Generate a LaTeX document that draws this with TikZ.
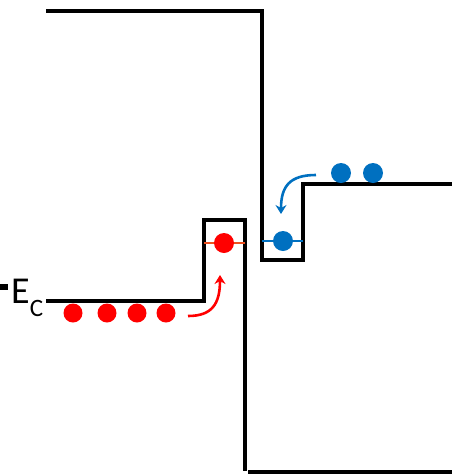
\documentclass[tikz,border=0pt]{standalone}
\usepackage{fontspec}
\setmainfont{Carlito}
\usetikzlibrary{arrows.meta}
\definecolor{elred}{RGB}{255,0,0}
\definecolor{lvlred}{RGB}{238,80,30}
\definecolor{elblue}{RGB}{0,112,192}
\begin{document}
\begin{tikzpicture}[x=1pt,y=-1pt,
  band/.style={line width=3.3pt,line join=miter},
  redel/.style={circle,fill=elred,inner sep=0pt,minimum size=19pt},
  blueel/.style={circle,fill=elblue,inner sep=0pt,minimum size=20pt},
  hop/.style={line width=2.6pt,-{Stealth[length=9pt,width=11pt,inset=3pt]}}]
\useasboundingbox (0,0) rectangle (452,475);

% band edges
\draw[band] (46,11) -- (262,11) -- (262,260) -- (303,260) -- (303,184) -- (452,184);
\draw[band] (46,301) -- (204,301) -- (204,220) -- (245,220) -- (245,471);
\draw[band] (248,472) -- (452,472);

% confined levels
\draw[lvlred,line width=2.5pt] (204,243) -- (245,243);
\draw[elblue,line width=2.5pt] (262,241) -- (303,241);

% conduction band label
\fill (0,284) rectangle (8,289.5);
\node[anchor=base west,inner sep=0pt] (ec) at (11,303.5)
  {\fontsize{38}{38}\selectfont E\raisebox{-13pt}{\fontsize{25}{25}\selectfont C}};

% electrons
\node[redel] (r1) at (73,313) {};
\node[redel] (r2) at (107,313) {};
\node[redel] (r3) at (137,313) {};
\node[redel] (r4) at (166,313) {};
\node[redel,minimum size=20pt] (rq) at (224,243) {};
\node[blueel] (bq) at (283,241) {};
\node[blueel] (b1) at (341,173) {};
\node[blueel] (b2) at (373,173) {};

% transfer arrows
\coordinate (rs) at (188,316);
\coordinate (re) at (220,275);
\coordinate (bs) at (316,175);
\coordinate (be) at (281,214);
\draw[hop,elred] (rs) .. controls (212,316) and (220,304) .. (re);
\draw[hop,elblue] (bs) .. controls (290,175) and (281,186) .. (be);
\end{tikzpicture}
\end{document}
